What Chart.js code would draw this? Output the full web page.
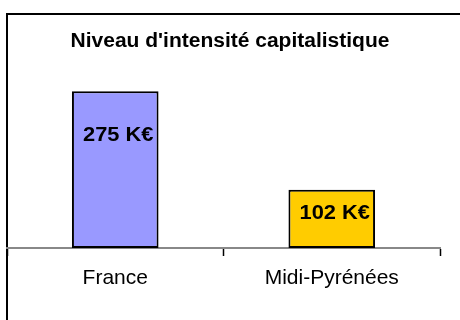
<!DOCTYPE html>
<html lang="fr">
<head>
<meta charset="utf-8">
<title>Niveau d'intensité capitalistique</title>
<script src="https://cdn.jsdelivr.net/npm/chart.js@4/dist/chart.umd.min.js"></script>
<style>
  html, body { margin: 0; padding: 0; background: #fff; }
  #wrap { width: 460px; height: 320px; position: relative; }
</style>
</head>
<body>
<div id="wrap"><canvas id="chartIntensite"></canvas></div>
<script>
// Intensité capitalistique (en milliers d'euros)
const titre = "Niveau d'intensité capitalistique";
const zones = ["France", "Midi-Pyrénées"];
const valeurs = [275, 102];
const couleurs = ["#9999FF", "#FFCC00"];

const FONT = "'Liberation Sans', Arial, sans-serif";

function formatK(v) {
  return `${v} K€`;
}

// texte légèrement élargi horizontalement
function texteLarge(ctx, txt, x, y, sx) {
  ctx.save();
  ctx.translate(x, y);
  ctx.scale(sx, 1);
  ctx.fillText(txt, 0, 0);
  ctx.restore();
}

// cadre (haut + gauche) et titre centré
const cadrePlugin = {
  id: "cadre",
  beforeDraw(chart) {
    const ctx = chart.ctx;
    ctx.save();
    ctx.fillStyle = "#fff";
    ctx.fillRect(0, 0, chart.width, chart.height);
    ctx.strokeStyle = "#000";
    ctx.lineWidth = 2;
    ctx.beginPath();
    ctx.moveTo(7, chart.height);
    ctx.lineTo(7, 14);
    ctx.lineTo(chart.width, 14);
    ctx.stroke();

    ctx.fillStyle = "#000";
    ctx.font = `bold 20px ${FONT}`;
    ctx.textAlign = "center";
    ctx.textBaseline = "middle";
    texteLarge(ctx, titre, 230, 41, 1.05);
    ctx.restore();
  },
};

// étiquettes de valeur dans les barres
const etiquettesPlugin = {
  id: "etiquettes",
  afterDatasetsDraw(chart, args, opts) {
    const ctx = chart.ctx;
    const meta = chart.getDatasetMeta(0);
    ctx.save();
    ctx.fillStyle = "#000";
    ctx.font = `bold 21px ${FONT}`;
    ctx.textAlign = "center";
    ctx.textBaseline = "middle";
    meta.data.forEach((bar, i) => {
      const dy = opts.decalages[i] ?? 20;
      texteLarge(ctx, formatK(valeurs[i]), bar.x + opts.dx, bar.y + dy, 1.04);
    });
    ctx.restore();
  },
};

new Chart(document.getElementById("chartIntensite"), {
  type: "bar",
  data: {
    labels: zones,
    datasets: [
      {
        data: valeurs,
        backgroundColor: couleurs,
        borderColor: "#000",
        borderWidth: 2,
        borderSkipped: false,
        categoryPercentage: 1,
        barPercentage: 0.4,
      },
    ],
  },
  options: {
    responsive: true,
    maintainAspectRatio: false,
    animation: false,
    layout: { padding: { top: 77, left: 7, right: 20, bottom: 0 } },
    plugins: {
      legend: { display: false },
      title: { display: false },
      tooltip: { enabled: false },
      etiquettes: { dx: 3, decalages: [44, 23] },
    },
    scales: {
      x: {
        grid: {
          offset: true,
          drawOnChartArea: false,
          tickLength: 8,
          tickColor: "#000",
          tickWidth: 1.5,
        },
        border: { color: "#888", width: 2 },
        ticks: {
          color: "#000",
          font: { family: FONT, size: 21 },
          padding: 10,
        },
        afterFit(scale) {
          scale.height = 72;
        },
      },
      y: {
        display: false,
        min: 0,
        max: 300,
      },
    },
  },
  plugins: [cadrePlugin, etiquettesPlugin],
});
</script>
</body>
</html>
